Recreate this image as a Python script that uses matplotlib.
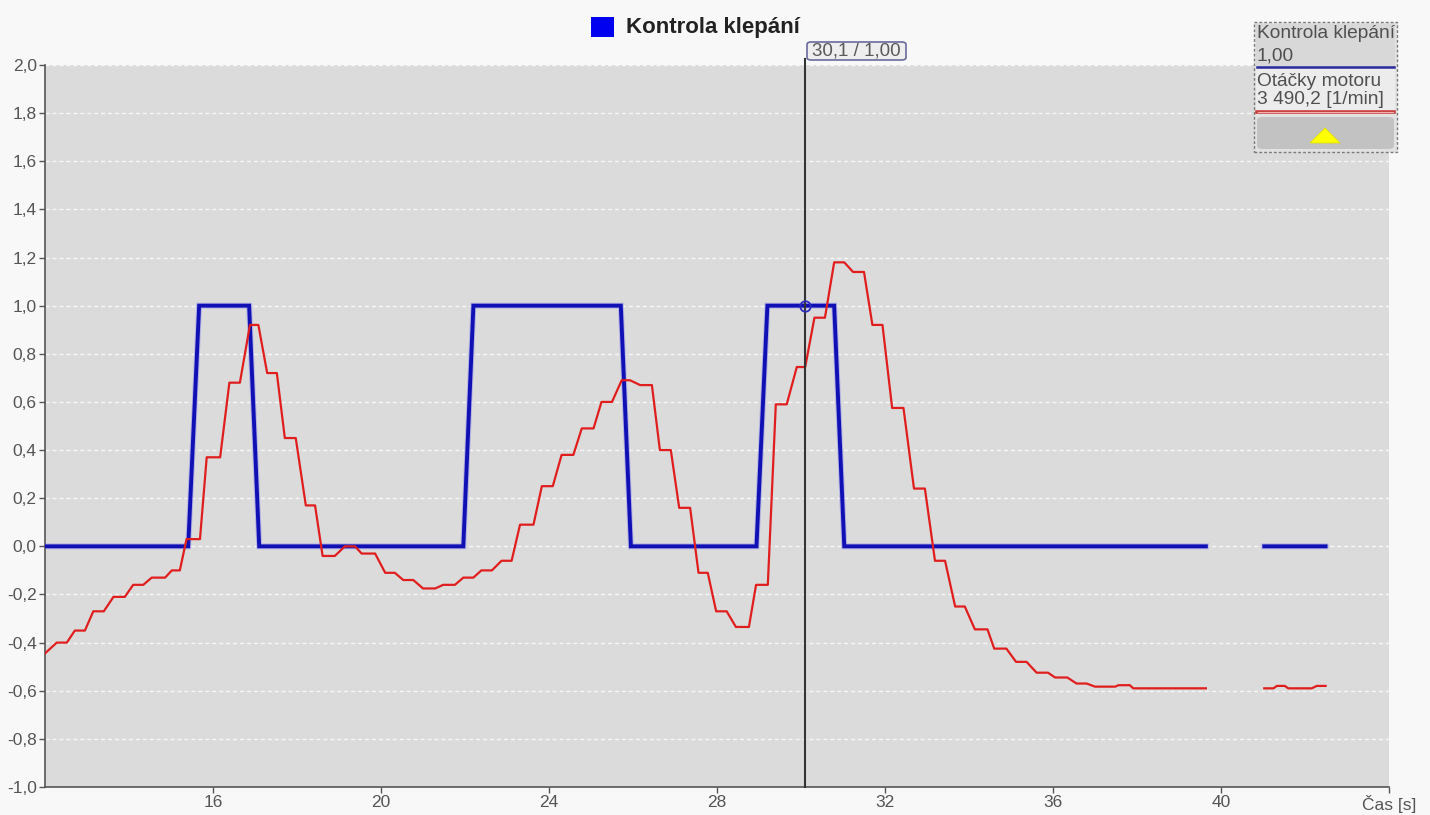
import numpy as np
import matplotlib
matplotlib.use("Agg")
import matplotlib.pyplot as plt
from matplotlib.patches import Rectangle, FancyBboxPatch, Polygon
from matplotlib.lines import Line2D

plt.rcParams['font.family'] = ['Liberation Sans', 'DejaVu Sans']

# ---- data -------------------------------------------------------------
# Knock control state (0 = inactive, 1 = active); NaN marks a logging gap
klepani_t = [12.0, 15.41, 15.67, 16.86, 17.10, 21.96, 22.20, 25.71, 25.95,
             28.94, 29.20, 30.79, 31.03, 39.64, np.nan, 41.03, 42.49]
klepani_v = [0.0, 0.0, 1.0, 1.0, 0.0, 0.0, 1.0, 1.0, 0.0,
             0.0, 1.0, 1.0, 0.0, 0.0, np.nan, 0.0, 0.0]

# Engine speed, normalised onto the knock-control axis
otacky_t = [12.00, 12.28, 12.52, 12.71, 12.95, 13.15, 13.40, 13.63, 13.90, 14.10,
            14.34, 14.54, 14.86, 15.02, 15.21, 15.37, 15.69, 15.85, 16.17, 16.39,
            16.64, 16.88, 17.08, 17.29, 17.52, 17.71, 17.97, 18.21, 18.43, 18.61,
            18.90, 19.14, 19.38, 19.54, 19.86, 20.10, 20.33, 20.53, 20.77, 21.00,
            21.29, 21.48, 21.76, 21.96, 22.20, 22.39, 22.64, 22.87, 23.11, 23.31,
            23.63, 23.83, 24.09, 24.30, 24.58, 24.78, 25.06, 25.25, 25.50, 25.73,
            25.93, 26.17, 26.45, 26.64, 26.90, 27.10, 27.36, 27.56, 27.78, 27.98,
            28.23, 28.45, 28.76, 28.93, 29.21, 29.40, 29.66, 29.90, 30.10, 30.32,
            30.57, 30.79, 31.03, 31.24, 31.50, 31.70, 31.94, 32.17, 32.44, 32.69,
            32.95, 33.19, 33.43, 33.67, 33.90, 34.14, 34.44, 34.60, 34.89, 35.12,
            35.37, 35.61, 35.88, 36.05, 36.34, 36.56, 36.80, 37.00, 37.48, 37.56,
            37.83, 37.91, 39.64, np.nan, 41.03, 41.25, 41.33, 41.52, 41.60, 42.16,
            42.28, 42.49]
otacky_v = [-0.445, -0.40, -0.40, -0.35, -0.35, -0.27, -0.27, -0.21, -0.21, -0.16,
            -0.16, -0.13, -0.13, -0.10, -0.10, 0.03, 0.03, 0.37, 0.37, 0.68,
            0.68, 0.92, 0.92, 0.72, 0.72, 0.45, 0.45, 0.17, 0.17, -0.04,
            -0.04, 0.0, 0.0, -0.03, -0.03, -0.11, -0.11, -0.14, -0.14, -0.175,
            -0.175, -0.16, -0.16, -0.13, -0.13, -0.10, -0.10, -0.06, -0.06, 0.09,
            0.09, 0.25, 0.25, 0.38, 0.38, 0.49, 0.49, 0.60, 0.60, 0.69,
            0.69, 0.67, 0.67, 0.40, 0.40, 0.16, 0.16, -0.11, -0.11, -0.27,
            -0.27, -0.335, -0.335, -0.16, -0.16, 0.59, 0.59, 0.745, 0.745, 0.95,
            0.95, 1.18, 1.18, 1.14, 1.14, 0.92, 0.92, 0.575, 0.575, 0.24,
            0.24, -0.06, -0.06, -0.25, -0.25, -0.345, -0.345, -0.425, -0.425, -0.48,
            -0.48, -0.525, -0.525, -0.545, -0.545, -0.57, -0.57, -0.583, -0.583, -0.577,
            -0.577, -0.59, -0.59, np.nan, -0.59, -0.59, -0.58, -0.58, -0.59, -0.59,
            -0.58, -0.58]

y_ticks = [-1.0, -0.8, -0.6, -0.4, -0.2, 0.0, 0.2, 0.4, 0.6, 0.8,
           1.0, 1.2, 1.4, 1.6, 1.8, 2.0]
x_ticks = [16, 20, 24, 28, 32, 36, 40, 44]
x_labels = ['16', '20', '24', '28', '32', '36', '40', 'Čas [s]']

cursor_t = 30.1
title = 'Kontrola klepání'
legend_entries = [('Kontrola klepání', '1,00'), ('Otáčky motoru', '3 490,2 [1/min]')]

# ---- figure -------------------------------------------------------------
W, H = 1430, 815
fig = plt.figure(figsize=(W / 100, H / 100), dpi=100, facecolor='#f8f8f8')


def fx(px):
    return px / W


def fy(py):
    return 1 - py / H


ax = fig.add_axes([fx(45), fy(787), (1389 - 45) / W, (787 - 65) / H])
ax.set_facecolor('#dbdbdb')
ax.set_xlim(12, 44)
ax.set_ylim(-1.0, 2.0)

for s in ('top', 'right'):
    ax.spines[s].set_visible(False)
for s in ('left', 'bottom'):
    ax.spines[s].set_color('#555555')
    ax.spines[s].set_linewidth(1.2)

ax.set_yticks(y_ticks)
ax.set_yticklabels([f'{v:.1f}'.replace('.', ',') for v in y_ticks])
ax.set_xticks(x_ticks)
ax.set_xticklabels(x_labels)
ax.tick_params(axis='both', direction='out', length=4, width=1, color='#555555',
               labelcolor='#555555', labelsize=12.5, pad=2)
ax.tick_params(axis='x', pad=2)

ax.yaxis.grid(True, color='#f6f6f6', linestyle=(0, (3, 2)), linewidth=1)
ax.set_axisbelow(True)

# series
ax.plot(klepani_t, klepani_v, color='#8080f0', linewidth=4.2, alpha=0.45,
        solid_joinstyle='miter', zorder=3)
ax.plot(klepani_t, klepani_v, color='#1010b4', linewidth=2.8,
        solid_joinstyle='miter', zorder=3)
ax.plot(otacky_t, otacky_v, color='#e01e1e', linewidth=1.6, zorder=4)

# cursor
cursor_v = float(np.interp(cursor_t, [t for t in klepani_t if not np.isnan(t)],
                           [v for v in klepani_v if not np.isnan(v)]))
ax.plot([cursor_t, cursor_t], [-1.0, 2.025], color='#333333', linewidth=1.5,
        clip_on=False, zorder=5)
ax.plot([cursor_t], [cursor_v], marker='o', markersize=7.5, markerfacecolor='none',
        markeredgecolor='#2a2ac0', markeredgewidth=1.3, zorder=6)

cursor_txt = (f'{cursor_t:.1f} / {cursor_v:.2f}').replace('.', ',')
fig.add_artist(FancyBboxPatch((fx(807), fy(60)), (906 - 807) / W, (60 - 42) / H,
                              boxstyle='round,pad=0,rounding_size=0.003',
                              transform=fig.transFigure, facecolor='#eeeeee',
                              edgecolor='#6a6aa0', linewidth=1.2))
fig.text(fx(856.5), fy(51), cursor_txt, ha='center', va='center',
         fontsize=13.5, color='#5a5a5a')

# title
fig.add_artist(Rectangle((fx(591), fy(37)), 23 / W, 20 / H, transform=fig.transFigure,
                         facecolor='#0000f0', edgecolor='none'))
fig.text(fx(626), fy(28), title, ha='left', va='center', fontsize=16,
         fontweight='bold', color='#222222')

# legend panel
fig.add_artist(Rectangle((fx(1254), fy(152)), (1397 - 1254) / W, (152 - 22) / H,
                         transform=fig.transFigure, facecolor='#e2e2e2',
                         edgecolor='#7a7a7a', linewidth=1, linestyle=(0, (2, 1.5))))
fig.add_artist(Rectangle((fx(1256), fy(68)), (1395 - 1256) / W, (68 - 24) / H,
                         transform=fig.transFigure, facecolor='#d8d8d8', edgecolor='none'))
fig.add_artist(Rectangle((fx(1256), fy(114)), (1395 - 1256) / W, (114 - 69) / H,
                         transform=fig.transFigure, facecolor='#ececec', edgecolor='none'))
fig.add_artist(FancyBboxPatch((fx(1257), fy(149)), (1394 - 1257) / W, (149 - 117) / H,
                              boxstyle='round,pad=0,rounding_size=0.004',
                              transform=fig.transFigure, facecolor='#c2c2c2',
                              edgecolor='none'))
fig.add_artist(Polygon([(fx(1310), fy(143)), (fx(1340), fy(143)), (fx(1325), fy(128))],
                       closed=True, transform=fig.transFigure, facecolor='#ffff00',
                       edgecolor='#e0e000', linewidth=0.6))

(n1, v1), (n2, v2) = legend_entries
fig.text(fx(1257), fy(34), n1, ha='left', va='center', fontsize=13.8, color='#505050')
fig.text(fx(1257), fy(56), v1, ha='left', va='center', fontsize=13.8, color='#505050')
fig.add_artist(Line2D([fx(1257), fx(1394)], [fy(67), fy(67)], transform=fig.transFigure,
                      color='#2a2aa0', linewidth=1.8))
fig.text(fx(1257), fy(81), n2, ha='left', va='center', fontsize=13.8, color='#505050')
fig.text(fx(1257), fy(99), v2, ha='left', va='center', fontsize=13.8, color='#505050')
fig.add_artist(Line2D([fx(1257), fx(1394)], [fy(111.5), fy(111.5)],
                      transform=fig.transFigure, color='#c83c3c', linewidth=2.6))
fig.add_artist(Line2D([fx(1258), fx(1393)], [fy(111.5), fy(111.5)],
                      transform=fig.transFigure, color='#f2b0b0', linewidth=0.8))

fig.savefig('out.png', dpi=100, facecolor=fig.get_facecolor())
